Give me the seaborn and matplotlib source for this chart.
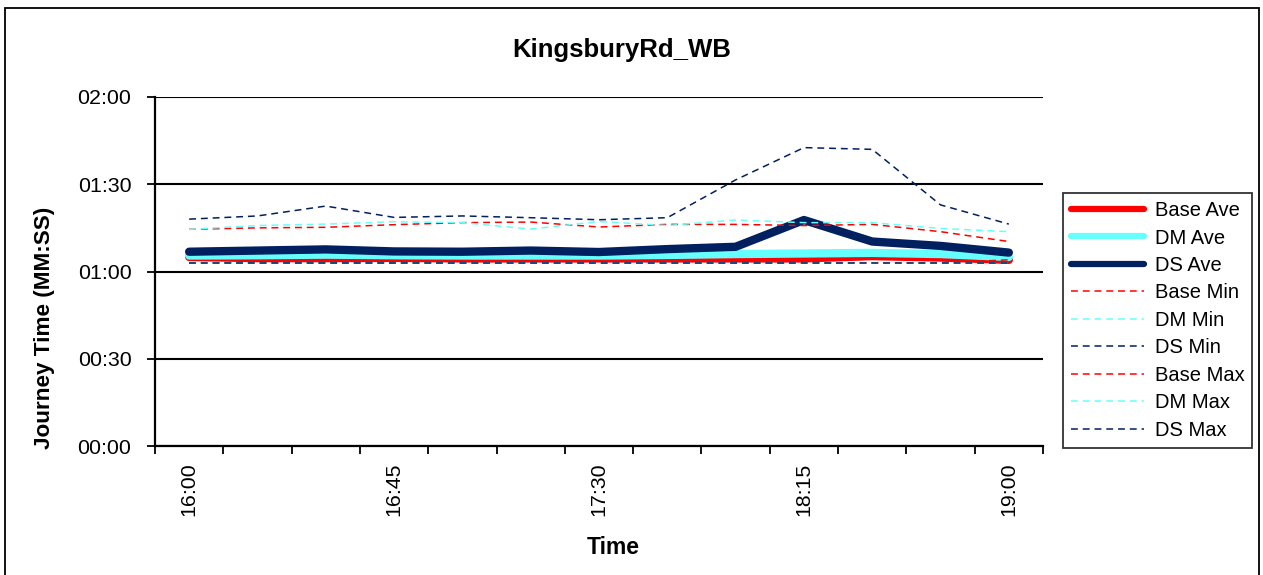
import matplotlib
matplotlib.use("Agg")
import matplotlib.pyplot as plt
import seaborn as sns
import pandas as pd
import numpy as np
from matplotlib.patches import Rectangle

times = ["16:00", "16:15", "16:30", "16:45", "17:00", "17:15", "17:30",
         "17:45", "18:00", "18:15", "18:30", "18:45", "19:00"]
tick_labels_shown = ["16:00", "16:45", "17:30", "18:15", "19:00"]
y_tick_values = [0, 30, 60, 90, 120]
y_tick_labels = ["00:00", "00:30", "01:00", "01:30", "02:00"]

# journey times in seconds
base_ave = [65.0, 64.6, 64.6, 64.7, 64.5, 64.5, 64.5, 64.5, 64.5, 64.5, 65.3, 64.8, 64.0]
dm_ave = [65.5, 65.6, 65.8, 65.6, 65.5, 65.5, 65.5, 65.7, 66.0, 66.2, 66.4, 66.0, 65.0]
ds_ave = [66.8, 67.2, 67.6, 66.9, 66.8, 67.2, 66.7, 67.7, 68.5, 77.7, 70.3, 68.8, 66.5]
base_min = [63.0, 63.0, 63.0, 63.0, 63.0, 63.0, 63.0, 63.0, 63.0, 63.0, 63.0, 63.0, 64.0]
dm_min = [63.0, 63.0, 63.0, 63.0, 63.0, 63.0, 63.0, 63.0, 63.0, 63.0, 63.0, 63.0, 63.0]
ds_min = [63.0, 63.0, 63.0, 63.0, 63.0, 63.0, 63.0, 63.0, 63.0, 63.0, 63.0, 63.0, 63.0]
base_max = [74.5, 75.0, 75.2, 76.1, 76.8, 77.0, 75.3, 76.2, 76.2, 75.8, 76.2, 73.7, 70.3]
dm_max = [74.5, 75.8, 76.3, 77.1, 76.8, 74.6, 77.2, 75.8, 77.7, 76.8, 76.8, 74.8, 73.7]
ds_max = [78.0, 79.1, 82.5, 78.6, 79.1, 78.5, 77.8, 78.5, 91.5, 102.6, 102.0, 82.9, 76.3]

RED = "#FF0000"
CYAN = "#66FFFF"
NAVY = "#002060"

series = [
    ("Base Ave", base_ave, RED, "solid"),
    ("DM Ave", dm_ave, CYAN, "solid"),
    ("DS Ave", ds_ave, NAVY, "solid"),
    ("Base Min", base_min, RED, "dashed"),
    ("DM Min", dm_min, CYAN, "dashed"),
    ("DS Min", ds_min, NAVY, "dashed"),
    ("Base Max", base_max, RED, "dashed"),
    ("DM Max", dm_max, CYAN, "dashed"),
    ("DS Max", ds_max, NAVY, "dashed"),
]

sns.set_theme(style="white")
plt.rcParams["font.family"] = ["Liberation Sans", "DejaVu Sans"]
plt.rcParams["text.color"] = "black"
plt.rcParams["xtick.color"] = "black"
plt.rcParams["ytick.color"] = "black"

fig = plt.figure(figsize=(12.63, 5.75), dpi=100)
ax = fig.add_axes([155 / 1263, 1 - 446 / 575, (1043 - 155) / 1263, (446 - 97) / 575])

x = np.arange(len(times))
for z, (name, vals, col, style) in enumerate(series):
    df = pd.DataFrame({"x": x, "y": vals})
    if style == "solid":
        sns.lineplot(data=df, x="x", y="y", ax=ax, color=col, lw=6,
                     label=name, zorder=3 + z, solid_capstyle="round")
    else:
        sns.lineplot(data=df, x="x", y="y", ax=ax, color=col, lw=1.1,
                     label=name, zorder=3 + z, dashes=False)
        ax.lines[-1].set_dashes((4.5, 3.2))

ax.set_xlim(-0.5, len(times) - 0.5)
ax.set_ylim(0, 120)

# y axis
ax.set_yticks(y_tick_values)
ax.set_yticklabels(y_tick_labels)
ax.yaxis.grid(True, color="black", lw=1.5)
ax.set_axisbelow(True)

# x axis: tick marks at category boundaries, labels at category centres
ax.set_xticks(np.arange(-0.5, len(times), 1.0))
ax.set_xticklabels([])
shown_pos = [times.index(t) for t in tick_labels_shown]
ax.set_xticks(shown_pos, minor=True)
ax.set_xticklabels(tick_labels_shown, minor=True, rotation=90, fontsize=15.4)
ax.tick_params(axis="x", which="major", direction="out", length=6, width=1.3,
               color="black", bottom=True)
ax.tick_params(axis="x", which="minor", length=0, pad=12)
ax.tick_params(axis="y", direction="out", length=6, width=1.3, color="black",
               left=True, labelsize=15.4, pad=11)

for s in ["top", "right"]:
    ax.spines[s].set_visible(False)
for s in ["left", "bottom"]:
    ax.spines[s].set_color("black")
    ax.spines[s].set_linewidth(1.6)

ax.set_xlabel("")
ax.set_ylabel("")

fig.text(621.5 / 1263, 1 - 56.5 / 575, "KingsburyRd_WB", ha="center",
         va="baseline", fontsize=18.5, fontweight="bold")
fig.text(613 / 1263, 1 - 548 / 575, "Time", ha="center", va="center",
         fontsize=16.5, fontweight="bold")
fig.text(45 / 1263, 1 - 328 / 575, "Journey Time (MM:SS)", ha="center",
         va="center", rotation=90, fontsize=16.2, fontweight="bold")

leg = ax.legend(loc="upper left", bbox_to_anchor=(1063 / 1263, 1 - 193 / 575),
                bbox_transform=fig.transFigure, frameon=True, fancybox=False,
                fontsize=14.5, handlelength=3.6, labelspacing=0.42,
                borderpad=0.4, handletextpad=0.55, borderaxespad=0)
leg.get_frame().set_edgecolor("black")
leg.get_frame().set_linewidth(1.3)
for h in leg.get_lines()[:3]:
    h.set_linewidth(4.5)

fig.patches.append(Rectangle((5 / 1263, -0.01), 1254 / 1263, 1 - 8 / 575 + 0.01,
                             transform=fig.transFigure, fill=False,
                             edgecolor="black", lw=1.3))

fig.savefig("out.png", dpi=100)
